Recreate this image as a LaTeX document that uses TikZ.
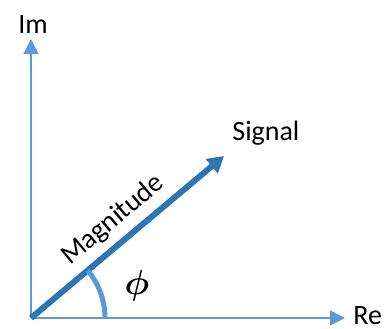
\documentclass[tikz,border=0pt]{standalone}
\usepackage{amsmath}
\usepackage{bm}
\usepackage{fontspec}
\setmainfont{Carlito}
\usepackage{tikz}
\usetikzlibrary{arrows.meta, positioning}

\definecolor{axisblue}{HTML}{5B9BD5}
\definecolor{signalblue}{HTML}{2E75B6}

\begin{document}
\begin{tikzpicture}[x=0.5pt, y=0.5pt,
    every node/.style={font=\fontsize{14}{17}\selectfont, inner sep=0pt},
    axis/.style={axisblue, line width=0.75pt, -{Triangle[length=7.5pt, width=7.5pt]}},
    vector/.style={signalblue, line width=3pt, -{Triangle[length=8pt, width=9pt]}},
    anglearc/.style={axisblue, line width=2.5pt}]
    \useasboundingbox (0,0) rectangle (386,328);

    % axes
    \coordinate (O) at (31,10);
    \coordinate (imtip) at (31,289);
    \coordinate (retip) at (345,10);
    \draw[axis] (O) -- (imtip);
    \draw[axis] (O) -- (retip);
    \node[anchor=base] (im) at (33,295) {Im};
    \node[anchor=base west] (re) at (353,4) {Re};

    % signal vector
    \coordinate (sigtip) at (224,172);
    \draw[vector] (O) -- (sigtip);
    \node[anchor=base west] (signal) at (232,188) {Signal};
    \node[rotate=40] (magnitude) at (113,108) {Magnitude};

    % phase angle
    \coordinate (arcstart) at (105,10);
    \draw[anglearc] (arcstart) arc[start angle=0, end angle=40, radius=74];
    \node[font=\fontsize{17}{20}\selectfont] (phi) at (137,42) {$\bm{\phi}$};

\end{tikzpicture}
\end{document}
